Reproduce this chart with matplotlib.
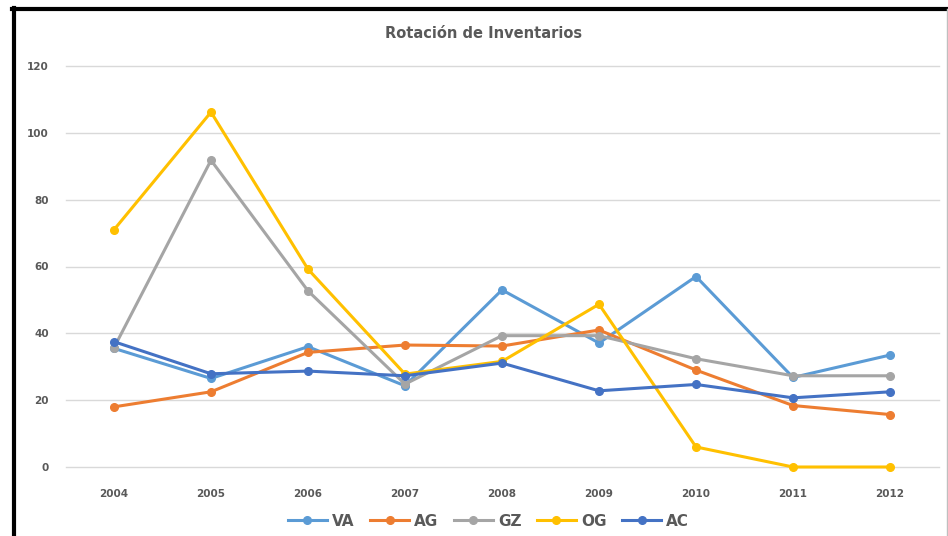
import matplotlib
matplotlib.use("Agg")
import matplotlib.pyplot as plt
from matplotlib.lines import Line2D

# data
years = ["2004", "2005", "2006", "2007", "2008", "2009", "2010", "2011", "2012"]
va = [35.5, 26.5, 36.0, 24.3, 53.0, 37.1, 57.0, 26.8, 33.5]
ag = [18.0, 22.5, 34.3, 36.5, 36.2, 41.0, 29.0, 18.4, 15.7]
gz = [35.7, 91.8, 52.7, 24.8, 39.3, 39.3, 32.4, 27.3, 27.3]
og = [71.0, 106.2, 59.2, 27.8, 31.6, 48.7, 6.0, 0.0, 0.0]
ac = [37.5, 27.9, 28.7, 27.3, 31.1, 22.8, 24.7, 20.7, 22.5]

series = {"VA": va, "AG": ag, "GZ": gz, "OG": og, "AC": ac}
colors = {"VA": "#5B9BD5", "AG": "#ED7D31", "GZ": "#A5A5A5", "OG": "#FFC000", "AC": "#4472C4"}

txt = "#595959"

fig = plt.figure(figsize=(9.48, 5.36), dpi=100)
ax = fig.add_axes([65.5 / 948, 1 - 467 / 536, (938.5 - 65.5) / 948, (467 - 66) / 536])

x = range(len(years))
for name, vals in series.items():
    ax.plot(x, vals, color=colors[name], lw=2.2, marker="o", markersize=5.5,
            label=name, solid_joinstyle="round", clip_on=False, zorder=3)

ax.set_xlim(-0.5, len(years) - 0.5)
ax.set_ylim(0, 120)
ax.set_yticks(range(0, 121, 20))
ax.set_xticks(list(x))
ax.set_xticklabels(years)
ax.grid(axis="y", color="#D9D9D9", lw=1)
for gl in ax.get_ygridlines():
    gl.set_clip_on(False)
ax.set_axisbelow(True)
for s in ax.spines.values():
    s.set_visible(False)
ax.tick_params(length=0, labelsize=7.5, labelcolor=txt, pad=12)
ax.tick_params(axis="x", pad=16)
for lab in ax.get_xticklabels() + ax.get_yticklabels():
    lab.set_fontweight("bold")

fig.text(0.51, 1 - 34 / 536, "Rotación de Inventarios", ha="center", va="center",
         fontsize=10.5, fontweight="bold", color=txt)

leg = fig.legend(loc="center", bbox_to_anchor=(0.515, 1 - 521 / 536), ncol=5,
                 frameon=False, fontsize=11, handlelength=2.6, columnspacing=1.0,
                 handletextpad=0.3)
for t in leg.get_texts():
    t.set_color(txt)
    t.set_fontweight("bold")

# outer frame like the screenshot
fig.add_artist(Line2D([13.5 / 948, 13.5 / 948], [0, 1 - 8 / 536], color="black", lw=3,
                      transform=fig.transFigure))
fig.add_artist(Line2D([12 / 948, 947 / 948], [1 - 9 / 536, 1 - 9 / 536], color="black", lw=3,
                      transform=fig.transFigure))
fig.add_artist(Line2D([946.5 / 948, 946.5 / 948], [0, 1 - 9 / 536], color="#BFBFBF", lw=1,
                      transform=fig.transFigure))

fig.savefig("out.png", dpi=100)
